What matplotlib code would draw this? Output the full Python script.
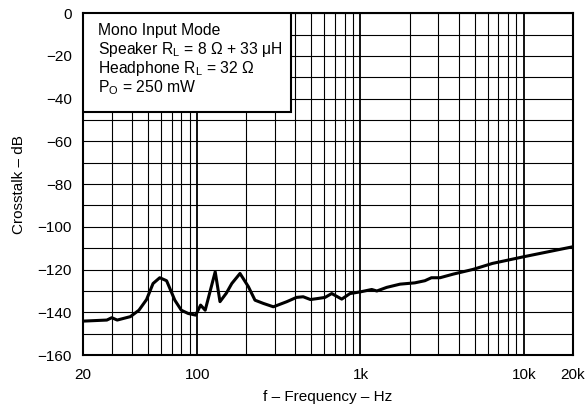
import matplotlib
matplotlib.use("Agg")
import matplotlib.pyplot as plt
from matplotlib.patches import Rectangle
from matplotlib.ticker import FixedLocator, NullFormatter

plt.rcParams["font.family"] = ["Liberation Sans", "DejaVu Sans"]
plt.rcParams["mathtext.fontset"] = "custom"
plt.rcParams["mathtext.rm"] = "Liberation Sans"
plt.rcParams["mathtext.it"] = "Liberation Sans"

# crosstalk curve
freq = [20, 28, 30, 32.4, 39, 44, 49, 53.7, 59, 65, 73, 80, 88, 98, 105, 112,
        129, 138, 151, 163, 183, 206, 226, 254, 293, 354, 406, 446, 494, 550,
        607, 667, 768, 863, 1000, 1172, 1260, 1450, 1748, 2150, 2480, 2720,
        3070, 3700, 4890, 6430, 9960, 20000]
crosstalk = [-144.1, -143.6, -142.5, -143.6, -142, -139, -134, -126.5, -123.8,
             -125.2, -134.3, -139, -140.5, -141.3, -136.6, -139, -121, -135,
             -131, -126.5, -121.8, -128, -134.3, -135.8, -137.4, -135, -133,
             -132.7, -134, -133.5, -133, -131.2, -133.8, -131.2, -130.4, -129.3,
             -130, -128.3, -126.8, -126.2, -125.2, -123.8, -123.8, -122.1,
             -119.9, -117.1, -114, -109.3]

x_ticks = [20, 100, 1000, 10000, 20000]
x_labels = ["20", "100", "1k", "10k", "20k"]
y_ticks = list(range(-160, 1, 20))
y_grid = list(range(-160, 1, 10))
x_grid = [m * 10 ** d for d in (1, 2, 3, 4) for m in range(1, 10)]
x_grid = [v for v in x_grid if 20 < v < 20000]
x_decades = [100, 1000, 10000]

legend_lines = [
    "Mono Input Mode",
    r"Speaker R$_\mathregular{L}$ = 8 $\Omega$ + 33 $\mathregular{\mu}$H",
    r"Headphone R$_\mathregular{L}$ = 32 $\Omega$",
    r"P$_\mathregular{O}$ = 250 mW",
]

fig = plt.figure(figsize=(5.87, 4.11), dpi=100)
ax = fig.add_axes([0.1414, 0.136, 0.8346, 0.832])

ax.set_xscale("log")
ax.set_xlim(20, 20000)
ax.set_ylim(-160, 0)

for v in x_grid:
    ax.axvline(v, color="black", lw=1.3 if v in x_decades else 0.8, zorder=1)
for v in y_grid:
    ax.axhline(v, color="black", lw=0.8, zorder=1)

ax.plot(freq, crosstalk, color="black", lw=2.2, zorder=3)

ax.xaxis.set_major_locator(FixedLocator(x_ticks))
ax.set_xticklabels(x_labels)
ax.xaxis.set_minor_formatter(NullFormatter())
ax.tick_params(axis="x", which="both", length=0, pad=9, labelsize=11)
ax.set_yticks(y_ticks)
ax.set_yticklabels([str(t).replace("-", "\u2212") for t in y_ticks])
ax.tick_params(axis="y", length=0, pad=8, labelsize=11)

for s in ax.spines.values():
    s.set_linewidth(1.5)

ax.set_xlabel("f \u2013 Frequency \u2013 Hz", fontsize=11, labelpad=6)
ax.set_ylabel("Crosstalk \u2013 dB", fontsize=11, labelpad=8)

ax.add_patch(Rectangle((0, 0.71), 0.425, 0.29, transform=ax.transAxes,
                       facecolor="white", edgecolor="black", lw=1.5, zorder=4))
for i, line in enumerate(legend_lines):
    ax.text(0.031, 0.95 - i * 0.0556, line, transform=ax.transAxes,
            fontsize=11.3, va="center", ha="left", zorder=5)

fig.savefig("out.png", dpi=100)
